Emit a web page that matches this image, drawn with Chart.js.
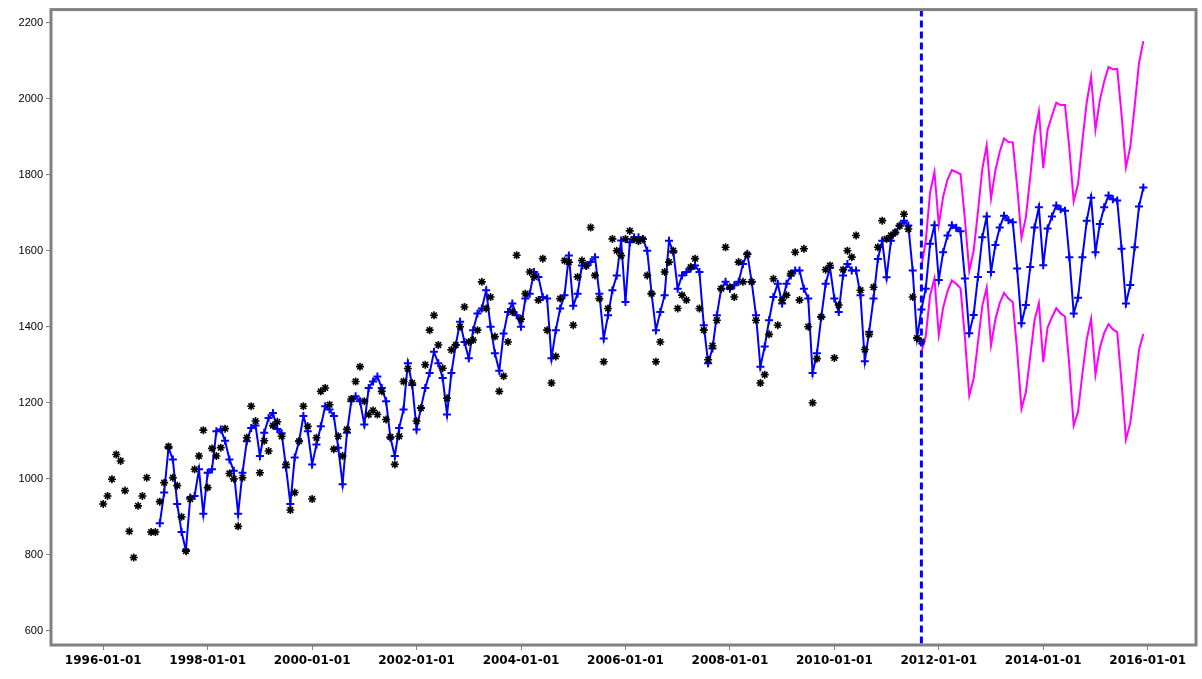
<!DOCTYPE html>
<html lang="en">
<head>
    <meta charset="UTF-8">
    <title>Forecast with bounds</title>
    <script src="https://cdn.jsdelivr.net/npm/chart.js"></script>
    <style>
        html, body {
            margin: 0;
            padding: 0;
            background: #fff;
        }
        #wrap {
            width: 1202px;
            height: 679px;
        }
    </style>
</head>
<body>
    <div id="wrap"><canvas id="forecastChart"></canvas></div>
    <script>
        // months are counted from 1996-01 (month 0)
        const startYear = 1996;

        // observed series, 1996-01 .. 2011-09
        const actual = [
            934, 955, 999, 1064, 1047, 969, 862, 793, 929, 955, 1003, 860,
            860, 940, 990, 1085, 1003, 982, 900, 810, 947, 1025, 1060, 1128,
            977, 1080, 1060, 1082, 1132, 1014, 1000, 875, 1003, 1108, 1191, 1152,
            1016, 1100, 1073, 1140, 1150, 1112, 1038, 918, 964, 1099, 1191, 1138,
            947, 1108, 1230, 1239, 1195, 1078, 1112, 1060, 1130, 1210, 1256, 1295,
            1204, 1169, 1180, 1169, 1230, 1156, 1110, 1038, 1112, 1256, 1290, 1252,
            1152, 1186, 1300, 1391, 1430, 1352, 1291, 1212, 1339, 1352, 1400, 1452,
            1360, 1365, 1391, 1518, 1448, 1478, 1374, 1230, 1270, 1360, 1439, 1588,
            1420, 1487, 1544, 1531, 1470, 1579, 1391, 1252, 1322, 1474, 1574, 1570,
            1404, 1531, 1574, 1560, 1661, 1535, 1474, 1308, 1448, 1631, 1600, 1587,
            1631, 1652, 1630, 1625, 1630, 1535, 1487, 1308, 1360, 1544, 1570, 1600,
            1448, 1483, 1470, 1557, 1579, 1448, 1391, 1313, 1350, 1417, 1500, 1609,
            1504, 1478, 1570, 1518, 1590, 1518, 1417, 1252, 1274, 1380, 1526, 1404,
            1470, 1483, 1540, 1596, 1470, 1605, 1400, 1200, 1316, 1426, 1550, 1561,
            1318, 1457, 1550, 1600, 1583, 1640, 1496, 1340, 1380, 1504, 1609, 1679,
            1631, 1640, 1648, 1665, 1696, 1657, 1478, 1370, 1361
        ];

        // fitted values, 1997-02 .. 2011-08
        const fittedStart = 13;
        const fitted = [
            883, 964, 1082, 1051, 934, 860, 812, 951, 955, 1025, 908,
            1016, 1025, 1125, 1130, 1100, 1051, 1021, 908, 1016, 1099, 1134, 1140,
            1060, 1121, 1160, 1173, 1131, 1120, 1030, 934, 1056, 1099, 1165, 1125,
            1038, 1090, 1138, 1191, 1182, 1165, 1082, 986, 1121, 1204, 1217, 1204,
            1143, 1239, 1256, 1269, 1239, 1204, 1108, 1060, 1134, 1182, 1304, 1247,
            1130, 1186, 1239, 1278, 1334, 1304, 1265, 1169, 1278, 1352, 1413, 1360,
            1317, 1391, 1435, 1448, 1496, 1400, 1330, 1284, 1382, 1439, 1461, 1430,
            1400, 1474, 1487, 1544, 1531, 1478, 1474, 1317, 1391, 1448, 1483, 1587,
            1455, 1487, 1561, 1561, 1570, 1583, 1487, 1369, 1430, 1496, 1535, 1627,
            1465, 1622, 1635, 1635, 1631, 1600, 1487, 1391, 1439, 1483, 1626, 1596,
            1500, 1535, 1544, 1553, 1561, 1544, 1404, 1304, 1343, 1430, 1500, 1518,
            1500, 1509, 1518, 1565, 1592, 1518, 1430, 1295, 1348, 1417, 1478, 1513,
            1461, 1513, 1535, 1548, 1548, 1500, 1474, 1278, 1330, 1426, 1513, 1555,
            1474, 1439, 1535, 1565, 1548, 1548, 1483, 1309, 1387, 1474, 1578, 1626,
            1530, 1626, 1648, 1666, 1679, 1666, 1548, 1370
        ];

        // forecast and its bounds, 2011-09 .. 2015-12
        const forecastStart = 188;
        const forecast = [
            1445, 1500, 1618, 1667,
            1523, 1596, 1640, 1667, 1660, 1651, 1527, 1383, 1431, 1531, 1635, 1690,
            1544, 1615, 1661, 1692, 1680, 1675, 1553, 1409, 1457, 1557, 1661, 1714,
            1562, 1658, 1690, 1719, 1709, 1705, 1583, 1435, 1476, 1583, 1679, 1739,
            1596, 1670, 1714, 1745, 1735, 1732, 1605, 1461, 1510, 1609, 1716, 1766
        ];
        const upper = [
            1557, 1625, 1753, 1807,
            1668, 1742, 1787, 1812, 1807, 1801, 1683, 1547, 1599, 1703, 1815, 1877,
            1737, 1811, 1860, 1895, 1886, 1885, 1769, 1634, 1687, 1793, 1905, 1966,
            1817, 1918, 1955, 1989, 1983, 1983, 1869, 1730, 1776, 1889, 1991, 2057,
            1918, 1996, 2045, 2083, 2077, 2078, 1957, 1819, 1873, 1979, 2093, 2151
        ];
        const lower = [
            1333, 1375, 1483, 1527,
            1378, 1450, 1493, 1522, 1513, 1501, 1371, 1219, 1263, 1359, 1455, 1503,
            1351, 1419, 1462, 1489, 1474, 1465, 1337, 1184, 1227, 1321, 1417, 1462,
            1307, 1398, 1425, 1449, 1435, 1427, 1297, 1140, 1176, 1277, 1367, 1421,
            1274, 1344, 1383, 1407, 1393, 1386, 1253, 1103, 1147, 1239, 1339, 1381
        ];

        // axis ticks
        const xTickYears = [1996, 1998, 2000, 2002, 2004, 2006, 2008, 2010, 2012, 2014, 2016];
        const yTicks = [600, 800, 1000, 1200, 1400, 1600, 1800, 2000, 2200];

        const toPoints = (arr, first) => arr.map((v, i) => ({ x: first + i, y: v }));
        const bluePoints = toPoints(fitted, fittedStart).concat(toPoints(forecast, forecastStart));

        // frame around the plot and dashed line at the forecast origin
        const framePlugin = {
            id: 'frame',
            afterDatasetsDraw(chart) {
                const { ctx, chartArea: a, scales } = chart;
                const xs = scales.x.getPixelForValue(forecastStart);
                ctx.save();
                ctx.strokeStyle = '#0000ff';
                ctx.lineWidth = 3;
                ctx.setLineDash([7, 4]);
                ctx.beginPath();
                ctx.moveTo(xs, a.top);
                ctx.lineTo(xs, a.bottom);
                ctx.stroke();
                ctx.setLineDash([]);
                ctx.strokeStyle = '#808080';
                ctx.lineWidth = 3;
                ctx.strokeRect(a.left, a.top, a.right - a.left, a.bottom - a.top);
                ctx.restore();
            }
        };

        const ctx = document.getElementById('forecastChart').getContext('2d');
        const chart = new Chart(ctx, {
            type: 'line',
            data: {
                datasets: [
                    {
                        label: 'actual',
                        data: toPoints(actual, 0),
                        showLine: false,
                        pointStyle: 'star',
                        pointRadius: 4,
                        pointBorderWidth: 1.6,
                        pointBorderColor: '#000',
                        pointBackgroundColor: '#000'
                    },
                    {
                        label: 'fitted / forecast',
                        data: bluePoints,
                        borderColor: '#0000ff',
                        borderWidth: 2,
                        pointStyle: 'cross',
                        pointRadius: 4,
                        pointBorderWidth: 2,
                        pointBorderColor: '#0000ff',
                        tension: 0
                    },
                    {
                        label: 'upper',
                        data: toPoints(upper, forecastStart),
                        borderColor: '#ff00ff',
                        borderWidth: 2,
                        pointRadius: 0,
                        tension: 0
                    },
                    {
                        label: 'lower',
                        data: toPoints(lower, forecastStart),
                        borderColor: '#ff00ff',
                        borderWidth: 2,
                        pointRadius: 0,
                        tension: 0
                    }
                ]
            },
            options: {
                responsive: true,
                maintainAspectRatio: false,
                animation: false,
                events: [],
                layout: {
                    padding: { top: 6, right: 0, left: 0, bottom: 0 }
                },
                plugins: {
                    legend: { display: false },
                    tooltip: { enabled: false }
                },
                scales: {
                    x: {
                        type: 'linear',
                        min: -12,
                        max: 251.1,
                        afterBuildTicks: s => {
                            s.ticks = xTickYears.map(y => ({ value: (y - startYear) * 12 }));
                        },
                        afterFit: s => { s.height = 34; },
                        ticks: {
                            autoSkip: false,
                            maxRotation: 0,
                            padding: 4,
                            color: '#000',
                            font: { family: 'DejaVu Sans', size: 12, weight: 'bold' },
                            callback: v => (startYear + v / 12) + '-01-01'
                        },
                        grid: {
                            drawOnChartArea: false,
                            tickLength: 5,
                            color: '#808080'
                        },
                        border: { display: false }
                    },
                    y: {
                        min: 563,
                        max: 2234,
                        afterBuildTicks: s => {
                            s.ticks = yTicks.map(v => ({ value: v }));
                        },
                        afterFit: s => { s.width = 51; },
                        ticks: {
                            padding: 3,
                            color: '#000',
                            font: { family: 'Liberation Sans', size: 11 },
                            callback: v => String(v)
                        },
                        grid: {
                            drawOnChartArea: false,
                            tickLength: 5,
                            color: '#808080'
                        },
                        border: { display: false }
                    }
                }
            },
            plugins: [framePlugin]
        });
    </script>
</body>
</html>
